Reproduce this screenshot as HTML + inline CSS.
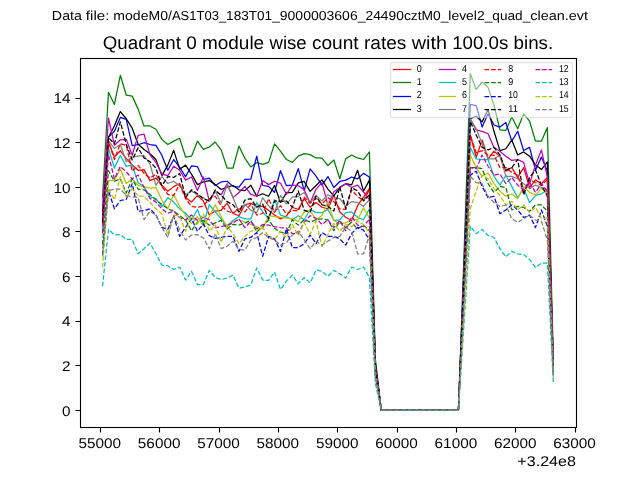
<!DOCTYPE html>
<html><head><meta charset="utf-8"><title>plot</title>
<style>
html,body{margin:0;padding:0;background:#fff;}
body{width:640px;height:480px;overflow:hidden;}
svg{display:block;will-change:transform;}
text{font-family:"Liberation Sans",sans-serif;fill:#000;text-rendering:geometricPrecision;}
.l{fill:none;stroke-width:1.25;stroke-linejoin:round;}
.s{stroke-linecap:square;}
.d{stroke-dasharray:4.62 2.0;stroke-linecap:butt;}
.t{font-size:14.1px;}
.lg{font-size:10.0px;}
</style></head><body>
<svg width="640" height="480" viewBox="0 0 640 480">

<g>
<path class="l s" stroke="#ff0000" d="M102.55 225.38 L108.48 142.27 L114.41 157.06 L120.34 150.78 L126.27 158.62 L132.20 164.90 L138.13 170.27 L144.06 169.60 L149.99 180.58 L155.92 178.11 L161.86 185.06 L167.79 191.33 L173.72 186.62 L179.65 183.49 L185.58 197.60 L191.51 202.08 L197.44 195.36 L203.37 200.96 L209.30 215.07 L215.23 211.04 L221.17 210.37 L227.10 203.20 L233.03 213.50 L238.96 215.74 L244.89 204.77 L250.82 203.20 L256.75 206.34 L262.68 206.34 L268.61 210.37 L274.54 215.07 L280.48 218.88 L286.41 216.19 L292.34 207.23 L298.27 209.47 L304.20 198.50 L310.13 207.23 L316.06 202.53 L321.99 207.23 L327.92 208.80 L333.85 195.36 L339.79 211.94 L345.72 217.31 L351.65 220.45 L357.58 205.66 L363.51 197.15 L369.44 188.42 L375.37 367.84 L381.30 410.40 L387.23 410.40 L393.16 410.40 L399.10 410.40 L405.03 410.40 L410.96 410.40 L416.89 410.40 L422.82 410.40 L428.75 410.40 L434.68 410.40 L440.61 410.40 L446.54 410.40 L452.47 410.40 L458.41 410.40 L464.34 272.64 L470.27 134.88 L476.20 157.28 L482.13 140.03 L488.06 158.85 L493.99 151.23 L499.92 156.16 L505.85 171.17 L511.78 167.58 L517.72 177.44 L523.65 167.58 L529.58 187.52 L535.51 179.90 L541.44 183.71 L547.37 177.44 L553.30 366.72"/>
<path class="l s" stroke="#008000" d="M102.55 197.60 L108.48 92.32 L114.41 104.42 L120.34 75.30 L126.27 95.23 L132.20 96.13 L138.13 109.12 L144.06 125.92 L149.99 125.92 L155.92 129.28 L161.86 139.36 L167.79 144.51 L173.72 141.15 L179.65 138.24 L185.58 157.06 L191.51 156.16 L197.44 141.15 L203.37 149.44 L209.30 146.98 L215.23 142.05 L221.17 149.89 L227.10 168.03 L233.03 168.03 L238.96 146.08 L244.89 158.40 L250.82 166.91 L256.75 162.43 L262.68 164.45 L268.61 162.43 L274.54 143.84 L280.48 151.23 L286.41 159.52 L292.34 162.43 L298.27 156.16 L304.20 153.70 L310.13 154.59 L316.06 157.95 L321.99 158.18 L327.92 165.57 L333.85 159.97 L339.79 178.78 L345.72 158.85 L351.65 155.04 L357.58 157.95 L363.51 159.52 L369.44 151.90 L375.37 358.88 L381.30 410.40 L387.23 410.40 L393.16 410.40 L399.10 410.40 L405.03 410.40 L410.96 410.40 L416.89 410.40 L422.82 410.40 L428.75 410.40 L434.68 410.40 L440.61 410.40 L446.54 410.40 L452.47 410.40 L458.41 410.40 L464.34 244.64 L470.27 73.73 L476.20 89.41 L482.13 82.02 L488.06 87.39 L493.99 105.09 L499.92 129.95 L505.85 130.40 L511.78 116.96 L517.72 128.83 L523.65 113.82 L529.58 121.22 L535.51 141.15 L541.44 141.15 L547.37 127.49 L553.30 356.64"/>
<path class="l s" stroke="#0000ff" d="M102.55 222.24 L108.48 137.12 L114.41 131.30 L120.34 117.41 L126.27 119.42 L132.20 145.63 L138.13 144.74 L144.06 142.72 L149.99 144.51 L155.92 145.41 L161.86 155.26 L167.79 170.27 L173.72 159.52 L179.65 167.14 L185.58 176.77 L191.51 165.79 L197.44 166.69 L203.37 179.46 L209.30 178.11 L215.23 185.50 L221.17 181.92 L227.10 181.25 L233.03 186.40 L238.96 187.07 L244.89 179.46 L250.82 179.01 L256.75 156.16 L262.68 185.50 L268.61 186.40 L274.54 192.45 L280.48 170.72 L286.41 185.73 L292.34 185.06 L298.27 168.70 L304.20 190.66 L310.13 168.93 L316.06 176.10 L321.99 185.06 L327.92 176.54 L333.85 187.52 L339.79 181.47 L345.72 180.13 L351.65 176.99 L357.58 178.78 L363.51 173.41 L369.44 176.99 L375.37 363.36 L381.30 410.40 L387.23 410.40 L393.16 410.40 L399.10 410.40 L405.03 410.40 L410.96 410.40 L416.89 410.40 L422.82 410.40 L428.75 410.40 L434.68 410.40 L440.61 410.40 L446.54 410.40 L452.47 410.40 L458.41 410.40 L464.34 258.08 L470.27 104.42 L476.20 105.54 L482.13 127.04 L488.06 113.82 L493.99 125.02 L499.92 127.04 L505.85 122.56 L511.78 141.15 L517.72 131.30 L523.65 150.56 L529.58 147.42 L535.51 170.05 L541.44 157.06 L547.37 171.17 L553.30 365.60"/>
<path class="l s" stroke="#000000" d="M102.55 211.04 L108.48 137.57 L114.41 125.70 L120.34 111.58 L126.27 118.75 L132.20 128.16 L138.13 144.29 L144.06 149.44 L149.99 153.70 L155.92 159.52 L161.86 175.65 L167.79 165.12 L173.72 150.34 L179.65 169.15 L185.58 165.12 L191.51 174.08 L197.44 184.61 L203.37 181.92 L209.30 180.58 L215.23 184.61 L221.17 189.54 L227.10 187.07 L233.03 185.50 L238.96 189.76 L244.89 190.66 L250.82 185.28 L256.75 196.26 L262.68 193.79 L268.61 196.26 L274.54 185.50 L280.48 202.53 L286.41 192.90 L292.34 192.45 L298.27 182.82 L304.20 181.47 L310.13 191.33 L316.06 185.50 L321.99 179.90 L327.92 189.09 L333.85 195.81 L339.79 187.30 L345.72 183.71 L351.65 184.83 L357.58 170.27 L363.51 191.10 L369.44 180.13 L375.37 364.48 L381.30 410.40 L387.23 410.40 L393.16 410.40 L399.10 410.40 L405.03 410.40 L410.96 410.40 L416.89 410.40 L422.82 410.40 L428.75 410.40 L434.68 410.40 L440.61 410.40 L446.54 410.40 L452.47 410.40 L458.41 410.40 L464.34 264.80 L470.27 118.75 L476.20 116.29 L482.13 121.89 L488.06 109.57 L493.99 131.30 L499.92 150.56 L505.85 148.77 L511.78 140.03 L517.72 155.04 L523.65 151.90 L529.58 156.16 L535.51 164.90 L541.44 169.60 L547.37 161.98 L553.30 363.36"/>
<path class="l s" stroke="#bf00bf" d="M102.55 208.80 L108.48 118.08 L114.41 145.18 L120.34 139.81 L126.27 139.36 L132.20 155.26 L138.13 135.33 L144.06 134.21 L149.99 154.82 L155.92 162.43 L161.86 174.08 L167.79 175.65 L173.72 166.24 L179.65 170.27 L185.58 180.13 L191.51 176.99 L197.44 190.43 L203.37 176.99 L209.30 201.18 L215.23 191.33 L221.17 194.91 L227.10 183.71 L233.03 197.60 L238.96 192.45 L244.89 186.40 L250.82 194.46 L256.75 196.26 L262.68 180.58 L268.61 184.61 L274.54 181.25 L280.48 183.04 L286.41 194.24 L292.34 185.06 L298.27 185.73 L304.20 189.76 L310.13 202.98 L316.06 189.09 L321.99 182.59 L327.92 205.44 L333.85 191.78 L339.79 187.74 L345.72 183.71 L351.65 187.52 L357.58 185.06 L363.51 192.00 L369.44 199.62 L375.37 367.84 L381.30 410.40 L387.23 410.40 L393.16 410.40 L399.10 410.40 L405.03 410.40 L410.96 410.40 L416.89 410.40 L422.82 410.40 L428.75 410.40 L434.68 410.40 L440.61 410.40 L446.54 410.40 L452.47 410.40 L458.41 410.40 L464.34 264.80 L470.27 118.75 L476.20 129.95 L482.13 131.30 L488.06 133.76 L493.99 147.42 L499.92 151.23 L505.85 156.16 L511.78 160.42 L517.72 159.52 L523.65 162.43 L529.58 183.71 L535.51 164.90 L541.44 149.89 L547.37 177.44 L553.30 365.60"/>
<path class="l s" stroke="#00bfbf" d="M102.55 231.20 L108.48 148.54 L114.41 168.03 L120.34 155.49 L126.27 166.46 L132.20 164.90 L138.13 182.82 L144.06 186.62 L149.99 196.93 L155.92 198.50 L161.86 206.56 L167.79 197.60 L173.72 202.08 L179.65 208.80 L185.58 213.28 L191.51 220.00 L197.44 209.47 L203.37 224.48 L209.30 204.77 L215.23 211.94 L221.17 218.88 L227.10 226.05 L233.03 220.45 L238.96 216.64 L244.89 218.88 L250.82 218.88 L256.75 202.53 L262.68 211.94 L268.61 218.88 L274.54 199.39 L280.48 215.07 L286.41 216.86 L292.34 219.78 L298.27 215.74 L304.20 219.78 L310.13 209.47 L316.06 212.61 L321.99 212.61 L327.92 209.47 L333.85 220.45 L339.79 219.78 L345.72 212.61 L351.65 211.94 L357.58 217.31 L363.51 219.78 L369.44 208.80 L375.37 370.08 L381.30 410.40 L387.23 410.40 L393.16 410.40 L399.10 410.40 L405.03 410.40 L410.96 410.40 L416.89 410.40 L422.82 410.40 L428.75 410.40 L434.68 410.40 L440.61 410.40 L446.54 410.40 L452.47 410.40 L458.41 410.40 L464.34 278.24 L470.27 147.42 L476.20 158.85 L482.13 159.52 L488.06 159.52 L493.99 176.32 L499.92 185.06 L505.85 175.20 L511.78 186.40 L517.72 197.60 L523.65 188.64 L529.58 202.53 L535.51 195.36 L541.44 193.79 L547.37 189.98 L553.30 368.96"/>
<path class="l s" stroke="#bfbf00" d="M102.55 255.84 L108.48 180.58 L114.41 180.58 L120.34 168.70 L126.27 183.49 L132.20 179.01 L138.13 185.28 L144.06 186.62 L149.99 188.19 L155.92 187.52 L161.86 200.06 L167.79 208.80 L173.72 194.46 L179.65 206.56 L185.58 215.52 L191.51 223.58 L197.44 216.64 L203.37 226.05 L209.30 216.64 L215.23 204.77 L221.17 216.64 L227.10 226.72 L233.03 222.02 L238.96 219.78 L244.89 222.24 L250.82 224.48 L256.75 226.72 L262.68 228.96 L268.61 215.74 L274.54 216.64 L280.48 217.31 L286.41 218.21 L292.34 218.88 L298.27 221.34 L304.20 211.94 L310.13 210.37 L316.06 220.00 L321.99 215.52 L327.92 201.63 L333.85 220.45 L339.79 223.58 L345.72 222.91 L351.65 218.88 L357.58 219.78 L363.51 207.90 L369.44 218.21 L375.37 372.32 L381.30 410.40 L387.23 410.40 L393.16 410.40 L399.10 410.40 L405.03 410.40 L410.96 410.40 L416.89 410.40 L422.82 410.40 L428.75 410.40 L434.68 410.40 L440.61 410.40 L446.54 410.40 L452.47 410.40 L458.41 410.40 L464.34 282.72 L470.27 155.04 L476.20 167.58 L482.13 176.32 L488.06 172.96 L493.99 183.71 L499.92 191.33 L505.85 196.26 L511.78 193.79 L517.72 198.72 L523.65 186.40 L529.58 192.45 L535.51 194.91 L541.44 188.64 L547.37 193.79 L553.30 368.96"/>
<path class="l s" stroke="#808080" d="M102.55 224.48 L108.48 140.70 L114.41 148.54 L120.34 144.51 L126.27 161.76 L132.20 157.06 L138.13 156.16 L144.06 155.49 L149.99 164.00 L155.92 185.28 L161.86 176.54 L167.79 183.49 L173.72 181.25 L179.65 185.95 L185.58 194.46 L191.51 191.10 L197.44 194.69 L203.37 197.82 L209.30 201.63 L215.23 190.88 L221.17 203.20 L227.10 184.61 L233.03 197.82 L238.96 211.94 L244.89 204.10 L250.82 210.37 L256.75 212.61 L262.68 197.82 L268.61 205.66 L274.54 212.61 L280.48 195.36 L286.41 204.10 L292.34 197.15 L298.27 196.26 L304.20 192.45 L310.13 203.20 L316.06 195.36 L321.99 200.96 L327.92 194.69 L333.85 197.82 L339.79 198.50 L345.72 206.34 L351.65 201.63 L357.58 202.53 L363.51 206.34 L369.44 199.39 L375.37 367.84 L381.30 410.40 L387.23 410.40 L393.16 410.40 L399.10 410.40 L405.03 410.40 L410.96 410.40 L416.89 410.40 L422.82 410.40 L428.75 410.40 L434.68 410.40 L440.61 410.40 L446.54 410.40 L452.47 410.40 L458.41 410.40 L464.34 264.80 L470.27 119.20 L476.20 128.83 L482.13 143.84 L488.06 158.85 L493.99 158.85 L499.92 155.04 L505.85 176.32 L511.78 176.32 L517.72 178.78 L523.65 183.71 L529.58 188.64 L535.51 185.06 L541.44 187.52 L547.37 189.98 L553.30 367.84"/>
<path class="l d" stroke="#ff0000" d="M102.55 224.48 L108.48 141.60 L114.41 159.52 L120.34 143.84 L126.27 145.41 L132.20 171.17 L138.13 165.34 L144.06 173.41 L149.99 178.11 L155.92 174.30 L161.86 186.62 L167.79 194.46 L173.72 195.36 L179.65 184.38 L185.58 198.50 L191.51 206.34 L197.44 207.23 L203.37 205.89 L209.30 198.72 L215.23 196.26 L221.17 205.66 L227.10 211.04 L233.03 213.28 L238.96 208.80 L244.89 211.94 L250.82 204.10 L256.75 215.07 L262.68 213.50 L268.61 198.72 L274.54 211.94 L280.48 205.66 L286.41 213.95 L292.34 210.37 L298.27 211.04 L304.20 197.15 L310.13 203.20 L316.06 198.50 L321.99 204.10 L327.92 197.82 L333.85 201.63 L339.79 208.80 L345.72 209.47 L351.65 189.98 L357.58 196.26 L363.51 200.96 L369.44 189.31 L375.37 366.72 L381.30 410.40 L387.23 410.40 L393.16 410.40 L399.10 410.40 L405.03 410.40 L410.96 410.40 L416.89 410.40 L422.82 410.40 L428.75 410.40 L434.68 410.40 L440.61 410.40 L446.54 410.40 L452.47 410.40 L458.41 410.40 L464.34 272.64 L470.27 134.88 L476.20 152.80 L482.13 150.56 L488.06 155.04 L493.99 155.04 L499.92 167.58 L505.85 167.58 L511.78 172.51 L517.72 175.20 L523.65 192.45 L529.58 179.90 L535.51 182.59 L541.44 185.06 L547.37 179.90 L553.30 366.72"/>
<path class="l d" stroke="#008000" d="M102.55 244.64 L108.48 170.72 L114.41 181.25 L120.34 179.01 L126.27 192.90 L132.20 179.01 L138.13 189.09 L144.06 189.76 L149.99 194.46 L155.92 200.06 L161.86 204.32 L167.79 208.80 L173.72 211.04 L179.65 215.52 L185.58 220.00 L191.51 230.75 L197.44 222.02 L203.37 220.45 L209.30 225.15 L215.23 222.91 L221.17 220.45 L227.10 228.96 L233.03 224.48 L238.96 225.15 L244.89 222.91 L250.82 220.45 L256.75 232.10 L262.68 226.72 L268.61 219.78 L274.54 228.29 L280.48 232.10 L286.41 233.44 L292.34 219.78 L298.27 225.15 L304.20 219.78 L310.13 222.02 L316.06 219.78 L321.99 218.88 L327.92 219.78 L333.85 230.75 L339.79 221.34 L345.72 227.62 L351.65 222.02 L357.58 228.96 L363.51 225.15 L369.44 230.75 L375.37 374.56 L381.30 410.40 L387.23 410.40 L393.16 410.40 L399.10 410.40 L405.03 410.40 L410.96 410.40 L416.89 410.40 L422.82 410.40 L428.75 410.40 L434.68 410.40 L440.61 410.40 L446.54 410.40 L452.47 410.40 L458.41 410.40 L464.34 289.44 L470.27 167.58 L476.20 167.58 L482.13 168.70 L488.06 183.71 L493.99 192.45 L499.92 186.40 L505.85 187.52 L511.78 209.92 L517.72 206.34 L523.65 207.46 L529.58 211.26 L535.51 204.99 L541.44 204.99 L547.37 211.26 L553.30 372.32"/>
<path class="l d" stroke="#0000ff" d="M102.55 254.94 L108.48 190.66 L114.41 208.80 L120.34 200.51 L126.27 199.39 L132.20 183.71 L138.13 211.26 L144.06 210.59 L149.99 208.80 L155.92 215.07 L161.86 227.39 L167.79 229.41 L173.72 216.19 L179.65 236.35 L185.58 227.39 L191.51 218.66 L197.44 231.20 L203.37 223.81 L209.30 235.68 L215.23 238.37 L221.17 237.47 L227.10 236.35 L233.03 236.35 L238.96 251.36 L244.89 238.82 L250.82 237.47 L256.75 232.54 L262.68 256.29 L268.61 236.35 L274.54 238.82 L280.48 251.36 L286.41 228.74 L292.34 247.55 L298.27 247.55 L304.20 243.74 L310.13 235.01 L316.06 243.74 L321.99 232.54 L327.92 236.35 L333.85 236.35 L339.79 238.82 L345.72 245.09 L351.65 233.66 L357.58 227.39 L363.51 230.08 L369.44 239.94 L375.37 376.80 L381.30 410.40 L387.23 410.40 L393.16 410.40 L399.10 410.40 L405.03 410.40 L410.96 410.40 L416.89 410.40 L422.82 410.40 L428.75 410.40 L434.68 410.40 L440.61 410.40 L446.54 410.40 L452.47 410.40 L458.41 410.40 L464.34 292.80 L470.27 175.20 L476.20 171.17 L482.13 186.40 L488.06 197.60 L493.99 196.26 L499.92 213.73 L505.85 209.92 L511.78 204.99 L517.72 209.92 L523.65 217.54 L529.58 215.07 L535.51 227.62 L541.44 209.92 L547.37 226.27 L553.30 374.56"/>
<path class="l d" stroke="#000000" d="M102.55 222.24 L108.48 137.57 L114.41 143.84 L120.34 121.89 L126.27 144.51 L132.20 159.97 L138.13 147.87 L144.06 157.95 L149.99 161.76 L155.92 168.03 L161.86 185.95 L167.79 176.54 L173.72 177.44 L179.65 173.41 L185.58 197.60 L191.51 189.76 L197.44 193.79 L203.37 198.72 L209.30 200.96 L215.23 189.98 L221.17 195.36 L227.10 201.63 L233.03 204.77 L238.96 211.94 L244.89 200.06 L250.82 198.72 L256.75 207.23 L262.68 204.10 L268.61 218.88 L274.54 200.96 L280.48 201.63 L286.41 200.96 L292.34 207.23 L298.27 190.88 L304.20 210.37 L310.13 211.94 L316.06 196.26 L321.99 204.77 L327.92 206.34 L333.85 211.04 L339.79 186.85 L345.72 208.80 L351.65 187.74 L357.58 190.88 L363.51 200.96 L369.44 194.69 L375.37 367.84 L381.30 410.40 L387.23 410.40 L393.16 410.40 L399.10 410.40 L405.03 410.40 L410.96 410.40 L416.89 410.40 L422.82 410.40 L428.75 410.40 L434.68 410.40 L440.61 410.40 L446.54 410.40 L452.47 410.40 L458.41 410.40 L464.34 265.92 L470.27 121.22 L476.20 135.10 L482.13 147.42 L488.06 149.89 L493.99 147.42 L499.92 155.04 L505.85 170.05 L511.78 167.58 L517.72 159.52 L523.65 194.91 L529.58 177.44 L535.51 170.05 L541.44 185.06 L547.37 196.26 L553.30 368.96"/>
<path class="l d" stroke="#bf00bf" d="M102.55 233.44 L108.48 154.82 L114.41 179.01 L120.34 166.46 L126.27 171.84 L132.20 179.01 L138.13 174.98 L144.06 187.52 L149.99 198.50 L155.92 202.08 L161.86 208.80 L167.79 213.28 L173.72 211.04 L179.65 217.76 L185.58 220.00 L191.51 215.07 L197.44 220.45 L203.37 217.31 L209.30 219.78 L215.23 227.62 L221.17 226.72 L227.10 225.15 L233.03 222.91 L238.96 218.88 L244.89 227.62 L250.82 221.34 L256.75 228.96 L262.68 224.48 L268.61 225.15 L274.54 226.72 L280.48 227.62 L286.41 228.06 L292.34 233.66 L298.27 233.66 L304.20 222.02 L310.13 215.74 L316.06 218.21 L321.99 224.48 L327.92 219.78 L333.85 227.62 L339.79 220.45 L345.72 230.75 L351.65 216.64 L357.58 225.15 L363.51 226.72 L369.44 218.88 L375.37 372.32 L381.30 410.40 L387.23 410.40 L393.16 410.40 L399.10 410.40 L405.03 410.40 L410.96 410.40 L416.89 410.40 L422.82 410.40 L428.75 410.40 L434.68 410.40 L440.61 410.40 L446.54 410.40 L452.47 410.40 L458.41 410.40 L464.34 289.44 L470.27 167.58 L476.20 168.70 L482.13 155.04 L488.06 166.24 L493.99 175.20 L499.92 173.86 L505.85 183.71 L511.78 177.44 L517.72 185.06 L523.65 189.98 L529.58 182.59 L535.51 192.45 L541.44 183.71 L547.37 191.33 L553.30 368.96"/>
<path class="l d" stroke="#00bfbf" d="M102.55 286.30 L108.48 229.41 L114.41 235.01 L120.34 234.56 L126.27 239.49 L132.20 239.49 L138.13 253.82 L144.06 248.67 L149.99 243.07 L155.92 253.82 L161.86 265.02 L167.79 265.70 L173.72 269.50 L179.65 267.04 L185.58 280.03 L191.51 271.30 L197.44 284.51 L203.37 284.51 L209.30 270.40 L215.23 277.57 L221.17 279.58 L227.10 278.02 L233.03 275.10 L238.96 288.32 L244.89 286.98 L250.82 284.96 L256.75 267.94 L262.68 280.03 L268.61 280.48 L274.54 271.97 L280.48 289.44 L286.41 281.15 L292.34 275.10 L298.27 283.84 L304.20 277.57 L310.13 282.94 L316.06 269.95 L321.99 271.30 L327.92 276.22 L333.85 270.40 L339.79 273.76 L345.72 278.02 L351.65 267.04 L357.58 269.50 L363.51 267.04 L369.44 277.57 L375.37 383.52 L381.30 410.40 L387.23 410.40 L393.16 410.40 L399.10 410.40 L405.03 410.40 L410.96 410.40 L416.89 410.40 L422.82 410.40 L428.75 410.40 L434.68 410.40 L440.61 410.40 L446.54 410.40 L452.47 410.40 L458.41 410.40 L464.34 318.56 L470.27 226.27 L476.20 233.66 L482.13 229.41 L488.06 235.46 L493.99 237.47 L499.92 248.67 L505.85 256.96 L511.78 251.36 L517.72 253.82 L523.65 254.50 L529.58 259.42 L535.51 267.49 L541.44 263.01 L547.37 263.01 L553.30 382.40"/>
<path class="l d" stroke="#bfbf00" d="M102.55 267.49 L108.48 188.64 L114.41 199.84 L120.34 176.54 L126.27 197.60 L132.20 188.64 L138.13 196.03 L144.06 196.26 L149.99 202.53 L155.92 208.80 L161.86 213.73 L167.79 235.01 L173.72 215.07 L179.65 216.19 L185.58 231.20 L191.51 216.19 L197.44 223.81 L203.37 213.73 L209.30 231.20 L215.23 224.93 L221.17 242.40 L227.10 226.27 L233.03 233.66 L238.96 243.74 L244.89 236.35 L250.82 231.20 L256.75 230.08 L262.68 227.39 L268.61 236.35 L274.54 239.94 L280.48 231.20 L286.41 237.92 L292.34 224.48 L298.27 235.68 L304.20 222.24 L310.13 234.56 L316.06 221.12 L321.99 246.88 L327.92 234.56 L333.85 223.36 L339.79 231.20 L345.72 224.48 L351.65 226.72 L357.58 221.12 L363.51 224.48 L369.44 233.44 L375.37 375.68 L381.30 410.40 L387.23 410.40 L393.16 410.40 L399.10 410.40 L405.03 410.40 L410.96 410.40 L416.89 410.40 L422.82 410.40 L428.75 410.40 L434.68 410.40 L440.61 410.40 L446.54 410.40 L452.47 410.40 L458.41 410.40 L464.34 309.60 L470.27 208.80 L476.20 190.88 L482.13 175.20 L488.06 178.78 L493.99 188.64 L499.92 195.36 L505.85 204.99 L511.78 201.18 L517.72 209.92 L523.65 204.99 L529.58 212.61 L535.51 207.46 L541.44 218.66 L547.37 217.76 L553.30 374.56"/>
<path class="l d" stroke="#808080" d="M102.55 255.84 L108.48 190.66 L114.41 189.09 L120.34 189.09 L126.27 195.36 L132.20 196.93 L138.13 197.60 L144.06 219.55 L149.99 211.26 L155.92 215.07 L161.86 227.39 L167.79 237.47 L173.72 215.07 L179.65 230.08 L185.58 239.94 L191.51 235.01 L197.44 234.56 L203.37 237.92 L209.30 248.67 L215.23 233.66 L221.17 248.67 L227.10 246.21 L233.03 241.28 L238.96 249.57 L244.89 250.02 L250.82 239.94 L256.75 237.47 L262.68 232.54 L268.61 237.47 L274.54 239.94 L280.48 245.09 L286.41 242.40 L292.34 235.01 L298.27 231.20 L304.20 239.94 L310.13 248.67 L316.06 241.28 L321.99 245.09 L327.92 241.28 L333.85 237.47 L339.79 236.35 L345.72 227.39 L351.65 231.20 L357.58 253.82 L363.51 253.82 L369.44 235.01 L375.37 375.68 L381.30 410.40 L387.23 410.40 L393.16 410.40 L399.10 410.40 L405.03 410.40 L410.96 410.40 L416.89 410.40 L422.82 410.40 L428.75 410.40 L434.68 410.40 L440.61 410.40 L446.54 410.40 L452.47 410.40 L458.41 410.40 L464.34 293.92 L470.27 176.32 L476.20 182.59 L482.13 183.71 L488.06 196.26 L493.99 202.53 L499.92 206.34 L505.85 204.99 L511.78 218.66 L517.72 222.46 L523.65 218.66 L529.58 215.07 L535.51 220.00 L541.44 221.34 L547.37 240.16 L553.30 376.80"/>
</g>
<rect x="80.5" y="58.5" width="496" height="369" fill="none" stroke="#000" stroke-width="1.11"/>
<path d="M100.50 428v4.6M159.50 428v4.6M219.50 428v4.6M278.50 428v4.6M337.50 428v4.6M397.50 428v4.6M456.50 428v4.6M515.50 428v4.6M575.50 428v4.6M80 410.50h-4.6M80 365.50h-4.6M80 321.50h-4.6M80 276.50h-4.6M80 231.50h-4.6M80 187.50h-4.6M80 142.50h-4.6M80 98.50h-4.6" stroke="#000" stroke-width="1.11" fill="none"/>
<text class="t" x="78.50" y="447.9" textLength="42.60" lengthAdjust="spacingAndGlyphs">55000</text>
<text class="t" x="137.85" y="447.9" textLength="42.60" lengthAdjust="spacingAndGlyphs">56000</text>
<text class="t" x="197.20" y="447.9" textLength="42.60" lengthAdjust="spacingAndGlyphs">57000</text>
<text class="t" x="256.55" y="447.9" textLength="42.60" lengthAdjust="spacingAndGlyphs">58000</text>
<text class="t" x="315.90" y="447.9" textLength="42.60" lengthAdjust="spacingAndGlyphs">59000</text>
<text class="t" x="375.25" y="447.9" textLength="42.60" lengthAdjust="spacingAndGlyphs">60000</text>
<text class="t" x="434.60" y="447.9" textLength="42.60" lengthAdjust="spacingAndGlyphs">61000</text>
<text class="t" x="493.95" y="447.9" textLength="42.60" lengthAdjust="spacingAndGlyphs">62000</text>
<text class="t" x="553.30" y="447.9" textLength="42.60" lengthAdjust="spacingAndGlyphs">63000</text>
<text class="t" x="61.98" y="415.50" textLength="8.52" lengthAdjust="spacingAndGlyphs">0</text>
<text class="t" x="61.98" y="370.90" textLength="8.52" lengthAdjust="spacingAndGlyphs">2</text>
<text class="t" x="61.98" y="326.30" textLength="8.52" lengthAdjust="spacingAndGlyphs">4</text>
<text class="t" x="61.98" y="281.70" textLength="8.52" lengthAdjust="spacingAndGlyphs">6</text>
<text class="t" x="61.98" y="237.10" textLength="8.52" lengthAdjust="spacingAndGlyphs">8</text>
<text class="t" x="53.46" y="192.50" textLength="17.04" lengthAdjust="spacingAndGlyphs">10</text>
<text class="t" x="53.46" y="147.90" textLength="17.04" lengthAdjust="spacingAndGlyphs">12</text>
<text class="t" x="53.46" y="103.30" textLength="17.04" lengthAdjust="spacingAndGlyphs">14</text>
<text class="t" x="517.3" y="466.3" textLength="58.7" lengthAdjust="spacingAndGlyphs">+3.24e8</text>
<text x="51.88" y="20.30" font-size="13.00" textLength="30.00" lengthAdjust="spacingAndGlyphs">Data</text>
<text x="85.88" y="20.30" font-size="13.00" textLength="23.50" lengthAdjust="spacingAndGlyphs">file:</text>
<text x="113.38" y="20.30" font-size="13.00" textLength="58.50" lengthAdjust="spacingAndGlyphs">modeM0/</text>
<text x="171.88" y="20.30" font-size="13.00" textLength="54.24" lengthAdjust="spacingAndGlyphs">AS1T03_</text>
<text x="226.12" y="20.30" font-size="13.00" textLength="53.63" lengthAdjust="spacingAndGlyphs">183T01_</text>
<text x="279.75" y="20.30" font-size="13.00" textLength="85.75" lengthAdjust="spacingAndGlyphs">9000003606_</text>
<text x="365.50" y="20.30" font-size="13.00" textLength="82.88" lengthAdjust="spacingAndGlyphs">24490cztM0_</text>
<text x="448.38" y="20.30" font-size="13.00" textLength="44.00" lengthAdjust="spacingAndGlyphs">level2_</text>
<text x="492.38" y="20.30" font-size="13.00" textLength="37.87" lengthAdjust="spacingAndGlyphs">quad_</text>
<text x="530.25" y="20.30" font-size="13.00" textLength="57.87" lengthAdjust="spacingAndGlyphs">clean.evt</text>
<text x="102.81" y="48.60" font-size="18.40" textLength="78.13" lengthAdjust="spacingAndGlyphs">Quadrant</text>
<text x="186.19" y="48.60" font-size="18.40" textLength="10.50" lengthAdjust="spacingAndGlyphs">0</text>
<text x="201.94" y="48.60" font-size="18.40" textLength="62.25" lengthAdjust="spacingAndGlyphs">module</text>
<text x="269.44" y="48.60" font-size="18.40" textLength="37.25" lengthAdjust="spacingAndGlyphs">wise</text>
<text x="311.94" y="48.60" font-size="18.40" textLength="46.75" lengthAdjust="spacingAndGlyphs">count</text>
<text x="363.94" y="48.60" font-size="18.40" textLength="42.50" lengthAdjust="spacingAndGlyphs">rates</text>
<text x="411.69" y="48.60" font-size="18.40" textLength="35.25" lengthAdjust="spacingAndGlyphs">with</text>
<text x="452.19" y="48.60" font-size="18.40" textLength="56.12" lengthAdjust="spacingAndGlyphs">100.0s</text>
<text x="513.56" y="48.60" font-size="18.40" textLength="39.63" lengthAdjust="spacingAndGlyphs">bins.</text>
<rect x="390.5" y="62.5" width="182" height="55" rx="1.7" ry="1.7" fill="#ffffff" fill-opacity="0.5" stroke="#cccccc" stroke-opacity="0.5" stroke-width="1.39"/>
<path class="l" stroke="#ff0000" d="M392.90 69.50h18.20"/>
<text class="lg" x="416.70" y="72.00" textLength="5.00" lengthAdjust="spacingAndGlyphs">0</text>
<path class="l" stroke="#008000" d="M392.90 82.50h18.20"/>
<text class="lg" x="416.70" y="85.00" textLength="5.00" lengthAdjust="spacingAndGlyphs">1</text>
<path class="l" stroke="#0000ff" d="M392.90 96.50h18.20"/>
<text class="lg" x="416.70" y="98.00" textLength="5.00" lengthAdjust="spacingAndGlyphs">2</text>
<path class="l" stroke="#000000" d="M392.90 109.50h18.20"/>
<text class="lg" x="416.70" y="112.00" textLength="5.00" lengthAdjust="spacingAndGlyphs">3</text>
<path class="l" stroke="#bf00bf" d="M438.90 69.50h17.20"/>
<text class="lg" x="461.90" y="72.00" textLength="5.00" lengthAdjust="spacingAndGlyphs">4</text>
<path class="l" stroke="#00bfbf" d="M438.90 82.50h17.20"/>
<text class="lg" x="461.90" y="85.00" textLength="5.00" lengthAdjust="spacingAndGlyphs">5</text>
<path class="l" stroke="#bfbf00" d="M438.90 96.50h17.20"/>
<text class="lg" x="461.90" y="98.00" textLength="5.00" lengthAdjust="spacingAndGlyphs">6</text>
<path class="l" stroke="#808080" d="M438.90 109.50h17.20"/>
<text class="lg" x="461.90" y="112.00" textLength="5.00" lengthAdjust="spacingAndGlyphs">7</text>
<path class="l d" stroke="#ff0000" d="M484.50 69.50h16.67"/>
<text class="lg" x="508.20" y="72.00" textLength="5.00" lengthAdjust="spacingAndGlyphs">8</text>
<path class="l d" stroke="#008000" d="M484.50 82.50h16.67"/>
<text class="lg" x="508.20" y="85.00" textLength="5.00" lengthAdjust="spacingAndGlyphs">9</text>
<path class="l d" stroke="#0000ff" d="M484.50 96.50h16.67"/>
<text class="lg" x="508.20" y="98.00" textLength="9.60" lengthAdjust="spacingAndGlyphs">10</text>
<path class="l d" stroke="#000000" d="M484.50 109.50h16.67"/>
<text class="lg" x="508.20" y="112.00" textLength="9.60" lengthAdjust="spacingAndGlyphs">11</text>
<path class="l d" stroke="#bf00bf" d="M535.50 69.50h16.67"/>
<text class="lg" x="559.00" y="72.00" textLength="9.60" lengthAdjust="spacingAndGlyphs">12</text>
<path class="l d" stroke="#00bfbf" d="M535.50 82.50h16.67"/>
<text class="lg" x="559.00" y="85.00" textLength="9.60" lengthAdjust="spacingAndGlyphs">13</text>
<path class="l d" stroke="#bfbf00" d="M535.50 96.50h16.67"/>
<text class="lg" x="559.00" y="98.00" textLength="9.60" lengthAdjust="spacingAndGlyphs">14</text>
<path class="l d" stroke="#808080" d="M535.50 109.50h16.67"/>
<text class="lg" x="559.00" y="112.00" textLength="9.60" lengthAdjust="spacingAndGlyphs">15</text>
</svg></body></html>
